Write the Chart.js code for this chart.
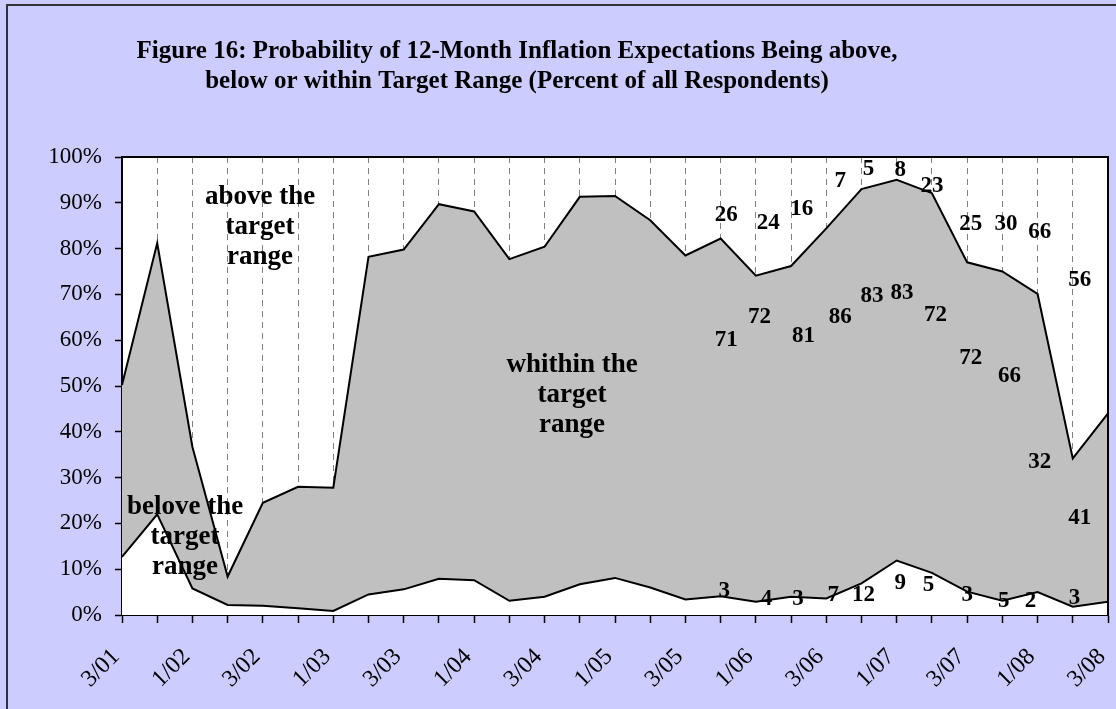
<!DOCTYPE html>
<html>
<head>
<meta charset="utf-8">
<script src="https://cdn.jsdelivr.net/npm/chart.js@4.4.1/dist/chart.umd.min.js"></script>
<style>
  html, body { margin: 0; padding: 0; background: #CCCCFF; }
  canvas { display: block; }
</style>
</head>
<body>
<canvas id="inflChart" width="1116" height="709"></canvas>
<script>
// categories (only every other point carries a tick label)
const categories = ['3/01', '', '1/02', '', '3/02', '', '1/03', '', '3/03', '', '1/04', '', '3/04', '', '1/05', '',
    '3/05', '', '1/06', '', '3/06', '', '1/07', '', '3/07', '', '1/08', '', '3/08'];

// percent of respondents
const belowRange = [12.7, 22.0, 5.8, 2.2, 2.0, 1.5, 0.9, 4.5, 5.6, 7.9, 7.6, 3.1, 4.0, 6.7, 8.1,
    6.0, 3.4, 4.1, 2.9, 4.0, 3.6, 6.9, 11.9, 9.2, 5.1, 3.1, 5.0, 1.8, 2.9];
const withinRange = [37.5, 59.2, 30.9, 6.2, 22.5, 26.5, 26.9, 73.7, 74.2, 81.8, 80.5, 74.6, 76.4, 84.6, 83.4,
    80.2, 75.1, 78.1, 71.2, 72.2, 80.8, 86.1, 83.1, 82.9, 71.9, 71.9, 65.1, 32.4, 41.1];
const aboveRange = [49.8, 18.8, 63.3, 91.6, 75.5, 72.0, 72.2, 21.8, 20.2, 10.3, 11.9, 22.3, 19.6, 8.7, 8.5,
    13.8, 21.5, 17.8, 25.9, 23.8, 15.6, 7.0, 5.0, 7.9, 23.0, 25.0, 29.9, 65.8, 56.0];

// y axis ticks
const yTicks = [0, 10, 20, 30, 40, 50, 60, 70, 80, 90, 100];

const titleLines = ['Figure 16: Probability of 12-Month Inflation Expectations Being above,',
    'below or within Target Range (Percent of all Respondents)'];

// region captions [lines, category index, percent]
const regionLabels = [
    [['above the', 'target', 'range'], 3.92, 84.7],
    [['whithin the', 'target', 'range'], 12.78, 48.0],
    [['belove the', 'target', 'range'], 1.79, 17.0]
];

// survey numbers written in the chart [text, category index, percent]
const numberLabels = [
    ['26', 17.16, 87.3], ['24', 18.35, 85.6], ['16', 19.3, 88.6], ['7', 20.4, 94.8], ['5', 21.2, 97.3],
    ['8', 22.1, 97.2], ['23', 23.0, 93.7], ['25', 24.1, 85.3], ['30', 25.1, 85.3], ['66', 26.06, 83.6],
    ['56', 27.2, 73.1],
    ['71', 17.16, 60.0], ['72', 18.1, 65.1], ['81', 19.35, 60.8], ['86', 20.4, 65.0], ['83', 21.3, 69.7],
    ['83', 22.15, 70.2], ['72', 23.1, 65.5], ['72', 24.1, 56.0], ['66', 25.2, 52.2], ['32', 26.06, 33.3],
    ['41', 27.2, 21.1],
    ['3', 17.1, 5.3], ['4', 18.3, 3.4], ['3', 19.2, 3.4], ['7', 20.2, 4.4], ['12', 21.06, 4.4],
    ['9', 22.1, 6.9], ['5', 22.9, 6.6], ['3', 24.0, 4.4], ['5', 25.04, 3.1], ['2', 25.8, 3.1],
    ['3', 27.05, 3.6]
];

const SERIF = "'Liberation Serif', 'Times New Roman', serif";

// Sfondo lavanda, cornice esterna, titolo e area del grafico bianca
const backgroundPlugin = {
    id: 'background',
    beforeDraw(chart) {
        const {ctx, chartArea: a} = chart;
        ctx.save();
        ctx.fillStyle = '#CCCCFF';
        ctx.fillRect(0, 0, chart.width, chart.height);
        ctx.strokeStyle = '#333333';
        ctx.lineWidth = 2;
        ctx.beginPath();
        ctx.moveTo(7, chart.height + 5);
        ctx.lineTo(7, 5);
        ctx.lineTo(chart.width + 5, 5);
        ctx.stroke();
        ctx.fillStyle = '#ffffff';
        ctx.fillRect(a.left, a.top, a.right - a.left, a.bottom - a.top);

        // titolo (nel riferimento non e' centrato sulla tela)
        ctx.fillStyle = '#000000';
        ctx.font = 'bold 25px ' + SERIF;
        ctx.textAlign = 'center';
        ctx.textBaseline = 'middle';
        titleLines.forEach((line, i) => {
            ctx.fillText(line, chart.width / 2 - 41, 52 + i * 30);
        });
        ctx.restore();
    },
    afterDraw(chart) {
        const {ctx, chartArea: a} = chart;
        ctx.save();
        ctx.strokeStyle = '#000000';
        ctx.lineWidth = 2;
        ctx.beginPath();
        ctx.moveTo(a.left, a.top);
        ctx.lineTo(a.right, a.top);
        ctx.lineTo(a.right, a.bottom);
        ctx.stroke();
        ctx.restore();
    }
};

// Etichette di testo posizionate tramite le scale
const labelsPlugin = {
    id: 'textLabels',
    afterDatasetsDraw(chart) {
        const {ctx, scales: {x, y}} = chart;
        ctx.save();
        ctx.fillStyle = '#000000';
        ctx.textAlign = 'center';
        ctx.textBaseline = 'middle';
        ctx.font = 'bold 27px ' + SERIF;
        regionLabels.forEach(([lines, idx, val]) => {
            const px = x.getPixelForValue(idx);
            const py = y.getPixelForValue(val);
            lines.forEach((line, i) => {
                ctx.fillText(line, px, py + (i - 1) * 30);
            });
        });
        ctx.font = 'bold 23px ' + SERIF;
        numberLabels.forEach(([txt, idx, val]) => {
            ctx.fillText(txt, x.getPixelForValue(idx), y.getPixelForValue(val));
        });
        ctx.restore();
    }
};

const ctx = document.getElementById('inflChart').getContext('2d');

window.inflChart = new Chart(ctx, {
    type: 'line',
    data: {
        labels: categories,
        datasets: [
            {
                label: 'below',
                data: belowRange,
                fill: 'origin',
                backgroundColor: '#ffffff',
                borderColor: '#000000',
                borderWidth: 2,
                pointRadius: 0,
                tension: 0
            },
            {
                label: 'within',
                data: withinRange,
                fill: '-1',
                backgroundColor: '#C0C0C0',
                borderColor: '#000000',
                borderWidth: 2,
                pointRadius: 0,
                tension: 0
            },
            {
                label: 'above',
                data: aboveRange,
                fill: false,
                borderWidth: 0,
                borderColor: 'rgba(0,0,0,0)',
                pointRadius: 0,
                tension: 0
            }
        ]
    },
    options: {
        responsive: false,
        devicePixelRatio: 1,
        animation: false,
        layout: {
            padding: {left: 0, right: 8, top: 157, bottom: 0}
        },
        plugins: {
            legend: {display: false},
            tooltip: {enabled: false},
            title: {display: false}
        },
        scales: {
            x: {
                offset: false,
                grid: {
                    display: true,
                    drawOnChartArea: true,
                    color: '#808080',
                    lineWidth: 1,
                    tickLength: 8,
                    tickColor: '#000000',
                    tickWidth: 1.5
                },
                border: {display: true, color: '#000000', width: 2, dash: [6, 5]},
                ticks: {
                    autoSkip: false,
                    minRotation: 45,
                    maxRotation: 45,
                    padding: 20,
                    labelOffset: -6,
                    color: '#000000',
                    font: {family: SERIF, size: 24}
                },
                afterFit(scale) {
                    scale.height = 94;
                    scale.paddingLeft = 0;
                    scale.paddingRight = 0;
                }
            },
            y: {
                stacked: true,
                min: 0,
                max: 100,
                afterBuildTicks(scale) {
                    scale.ticks = yTicks.map(v => ({value: v}));
                },
                grid: {
                    drawOnChartArea: false,
                    tickLength: 7,
                    tickColor: '#000000',
                    tickWidth: 1.5
                },
                border: {display: true, color: '#000000', width: 2},
                ticks: {
                    padding: 13,
                    color: '#000000',
                    font: {family: SERIF, size: 23},
                    callback: v => v + '%'
                },
                afterFit(scale) {
                    scale.width = 122;
                    scale.paddingTop = 0;
                    scale.paddingBottom = 0;
                }
            }
        }
    },
    plugins: [backgroundPlugin, labelsPlugin]
});
</script>
</body>
</html>
